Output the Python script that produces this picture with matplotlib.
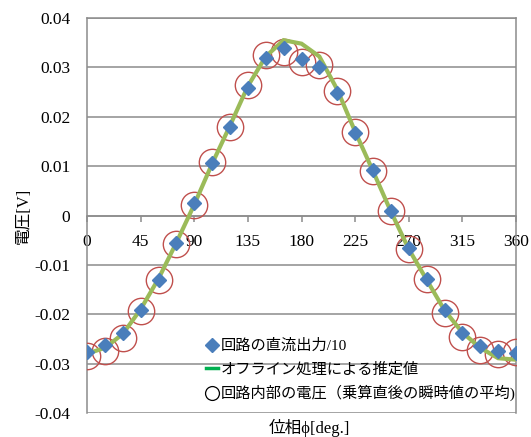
import matplotlib
matplotlib.use("Agg")
import matplotlib.pyplot as plt
from matplotlib.lines import Line2D

plt.rcParams['font.family'] = ['Liberation Serif', 'DejaVu Serif', 'Noto Sans CJK JP']

# phase angle [deg]
phase = [0, 15, 30, 45, 60, 75, 90, 105, 120, 135, 150, 165, 180,
         195, 210, 225, 240, 255, 270, 285, 300, 315, 330, 345, 360]

# DC output of the circuit divided by 10 [V]
dc_output = [-0.0277, -0.0262, -0.0237, -0.0191, -0.0130, -0.0055, 0.0025,
             0.0106, 0.0179, 0.0259, 0.0318, 0.0340, 0.0316, 0.0301, 0.0248,
             0.0168, 0.0093, 0.0010, -0.0066, -0.0128, -0.0191, -0.0237,
             -0.0264, -0.0275, -0.0279]

# estimate from offline processing [V]
offline_est = [-0.0280, -0.0268, -0.0240, -0.0190, -0.0128, -0.0055, 0.0022,
               0.0105, 0.0182, 0.0262, 0.0322, 0.0355, 0.0348, 0.0322, 0.0255,
               0.0170, 0.0090, 0.0008, -0.0068, -0.0130, -0.0192, -0.0237,
               -0.0268, -0.0289, -0.0292]

# internal voltage (mean of instantaneous values right after multiplication) [V]
internal_v = [-0.0285, -0.0275, -0.0249, -0.0194, -0.0130, -0.0058, 0.0022,
              0.0108, 0.0180, 0.0264, 0.0325, 0.0331, 0.0311, 0.0304, 0.0252,
              0.0169, 0.0091, 0.0010, -0.0068, -0.0129, -0.0198, -0.0247,
              -0.0273, -0.0281, -0.0277]

x_ticks = [0, 45, 90, 135, 180, 225, 270, 315, 360]
y_ticks = [-0.04, -0.03, -0.02, -0.01, 0.0, 0.01, 0.02, 0.03, 0.04]
y_tick_labels = ['-0.04', '-0.03', '-0.02', '-0.01', '0', '0.01', '0.02', '0.03', '0.04']

legend_labels = ['回路の直流出力/10', 'オフライン処理による推定値',
                 '回路内部の電圧（乗算直後の瞬時値の平均)']

GRID = '#8c8c8c'
BLUE = '#4a7ebb'
OLIVE = '#9bbb59'
RED = '#c0504d'

fig = plt.figure(figsize=(5.31, 4.37), dpi=100)
ax = fig.add_axes([87 / 531, 24 / 437, 429 / 531, 395 / 437])

ax.plot(phase, internal_v, ls='none', marker='o', ms=19, mfc='none',
        mec=RED, mew=1.0, zorder=3)
ax.plot(phase, offline_est, color=OLIVE, lw=3.0, zorder=4,
        solid_joinstyle='miter')
ax.plot(phase, dc_output, ls='none', marker='D', ms=7.5, color=BLUE, zorder=5)

ax.set_xlim(0, 360)
ax.set_ylim(-0.04, 0.04)
ax.set_xticks(x_ticks)
ax.set_yticks(y_ticks)
ax.set_yticklabels(y_tick_labels)

ax.yaxis.grid(True, color=GRID, lw=1.1)
ax.set_axisbelow(True)

for side in ('left', 'right', 'top'):
    ax.spines[side].set_color(GRID)
    ax.spines[side].set_linewidth(1.1)
ax.spines['bottom'].set_position(('data', 0))
ax.spines['bottom'].set_color(GRID)
ax.spines['bottom'].set_linewidth(1.1)

ax.tick_params(axis='x', direction='out', length=4, width=1.1, color=GRID,
               pad=9, labelsize=12.5)
ax.tick_params(axis='y', length=0, pad=12, labelsize=12.5)

ax.set_ylabel('電圧[V]', fontsize=12, labelpad=2)
fig.text(309 / 531, 1 - 428 / 437, '位相ϕ[deg.]', fontsize=12,
         ha='center', va='center')

handles = [
    Line2D([], [], ls='none', marker='D', ms=7, color=BLUE),
    Line2D([], [], color='#00b050', lw=2.5),
    Line2D([], [], ls='none', marker='o', ms=10, mfc='none', mec='black', mew=0.9),
]
ax.legend(handles, legend_labels, loc='upper left',
          bbox_to_anchor=((206 - 87) / 429, (413 - 339) / 395),
          frameon=False, handlelength=0.8, handletextpad=0.15,
          labelspacing=0.57, borderpad=0, borderaxespad=0,
          prop={'family': ['Liberation Serif', 'Noto Sans CJK JP'], 'size': 11})

fig.savefig('out.png', dpi=100)
